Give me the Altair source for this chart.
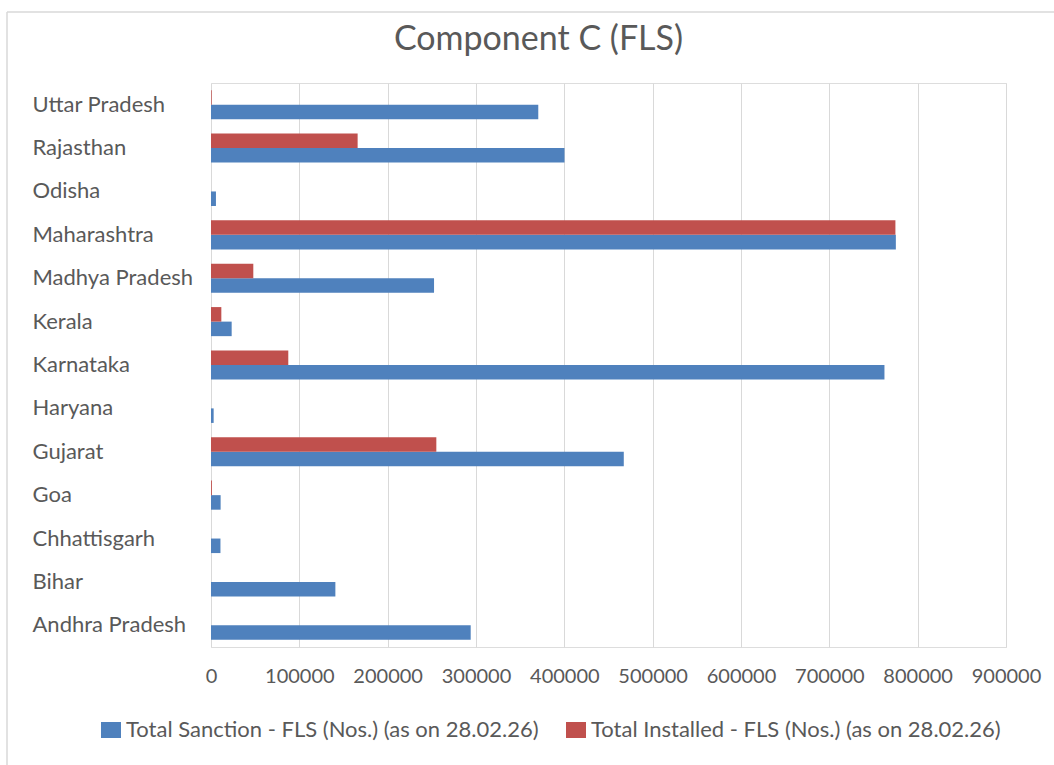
import altair as alt
import pandas as pd

# State-wise FLS numbers under Component C
states = [
    "Uttar Pradesh", "Rajasthan", "Odisha", "Maharashtra", "Madhya Pradesh",
    "Kerala", "Karnataka", "Haryana", "Gujarat", "Goa", "Chhattisgarh",
    "Bihar", "Andhra Pradesh",
]
sanctioned = [370500, 400200, 5600, 775300, 252500, 23400, 762400, 3000,
              467300, 10900, 10700, 140800, 294000]
installed = [800, 166000, 0, 774800, 47900, 11700, 87500, 0,
             255100, 1000, 0, 0, 0]

series_sanction = "Total Sanction - FLS (Nos.) (as on 28.02.26)"
series_installed = "Total Installed - FLS (Nos.) (as on 28.02.26)"
x_ticks = [0, 100000, 200000, 300000, 400000, 500000, 600000, 700000, 800000, 900000]

rows = []
for s, a, b in zip(states, sanctioned, installed):
    rows.append({"state": s, "series": series_sanction, "value": a})
    rows.append({"state": s, "series": series_installed, "value": b})
df = pd.DataFrame(rows)

FONT = "Lato"
TEXT = "#595959"
GRID = "#d9d9d9"

W, H = 795, 564

bars = alt.Chart(df).mark_bar().encode(
    x=alt.X(
        "value:Q",
        scale=alt.Scale(domain=[0, 900000], nice=False),
        axis=alt.Axis(
            values=x_ticks, format="d", title=None, grid=True, gridColor=GRID,
            gridWidth=1, domain=False, ticks=False, labelPadding=19,
            labelOverlap=False, labelFlush=False, labelFontSize=20,
            labelColor=TEXT, labelFont=FONT,
        ),
    ),
    y=alt.Y(
        "state:N", sort=states,
        scale=alt.Scale(paddingInner=0.33, paddingOuter=0.165),
        axis=alt.Axis(
            title=None, domain=False, ticks=False, labelAlign="left",
            labelPadding=179, labelLimit=400, labelFontSize=22,
            labelColor=TEXT, labelFont=FONT,
        ),
    ),
    yOffset=alt.YOffset("series:N", sort=[series_installed, series_sanction]),
    color=alt.Color(
        "series:N",
        scale=alt.Scale(domain=[series_sanction, series_installed],
                        range=["#4f81bd", "#c0504d"]),
        legend=alt.Legend(
            orient="none", legendX=-111, legendY=636, direction="horizontal",
            title=None, symbolType="M -1 -0.8 H 1 V 0.8 H -1 Z",
            symbolSize=400, symbolStrokeWidth=0, labelFontSize=22,
            labelColor=TEXT, labelFont=FONT, labelLimit=600,
            columnPadding=26, labelOffset=4,
        ),
    ),
)

# light chart-area frame along the top and left edges
frame_df = pd.DataFrame({"k": [0]})
frame_left = alt.Chart(frame_df).mark_rule(color=GRID, strokeWidth=1.5).encode(
    x=alt.value(-204), y=alt.value(-71), y2=alt.value(H + 130)
)
frame_top = alt.Chart(frame_df).mark_rule(color=GRID, strokeWidth=1.5).encode(
    y=alt.value(-71), x=alt.value(-204), x2=alt.value(W + 60)
)

chart = alt.layer(frame_left, frame_top, bars).properties(
    width=W, height=H,
    padding={"left": 211, "top": 83, "right": 48, "bottom": 118},
    autosize="none",
    title=alt.TitleParams(
        "Component C (FLS)", font=FONT, fontSize=34, fontWeight="normal",
        color=TEXT, anchor="middle", baseline="alphabetic", dx=-70,
        offset=-73,
    ),
).configure_view(stroke=None).configure(background="white")

chart.save("out.html", embed_options={"renderer": "svg", "actions": False})
